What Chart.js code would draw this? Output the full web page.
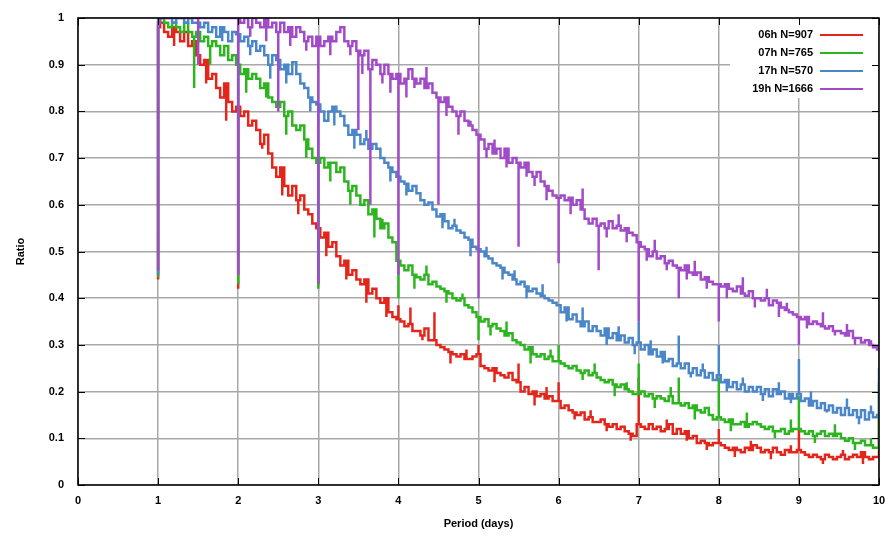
<!DOCTYPE html>
<html>
<head>
<meta charset="utf-8">
<script src="https://cdn.jsdelivr.net/npm/chart.js@4.4.1/dist/chart.umd.min.js"></script>
<style>
  html, body { margin: 0; padding: 0; background: #fff; }
  #chart { display: block; }
</style>
</head>
<body>
<canvas id="chart" width="889" height="540"></canvas>
<script>
// sampling grid of the period axis (days)
const periodStart = 1;
const periodStep = 0.05;

const seriesLabels = ['06h N=907', '07h N=765', '17h N=570', '19h N=1666'];
const seriesColors = ['#e3261c', '#2db51f', '#4a86c8', '#a24bc8'];

const xTicks = [0, 1, 2, 3, 4, 5, 6, 7, 8, 9, 10];
const yTicks = [0, 0.1, 0.2, 0.3, 0.4, 0.5, 0.6, 0.7, 0.8, 0.9, 1];

// ratio values, one row per day (1.00 .. 1.95, 2.00 .. 2.95, ...), last value at 10.00
const red = [
  0.98, 0.99, 0.97, 0.96, 0.98, 0.97, 0.95, 0.97, 0.94, 0.95, 0.92, 0.90, 0.91, 0.87, 0.88, 0.85, 0.83, 0.86, 0.82, 0.80,
  0.81, 0.79, 0.80, 0.77, 0.78, 0.76, 0.73, 0.75, 0.71, 0.68, 0.66, 0.68, 0.64, 0.62, 0.64, 0.61, 0.62, 0.59, 0.58, 0.56,
  0.55, 0.53, 0.54, 0.51, 0.52, 0.49, 0.47, 0.48, 0.45, 0.46, 0.44, 0.43, 0.44, 0.41, 0.42, 0.40, 0.39, 0.40, 0.37, 0.36,
  0.355, 0.35, 0.34, 0.345, 0.33, 0.33, 0.32, 0.335, 0.31, 0.31, 0.30, 0.295, 0.29, 0.285, 0.28, 0.275, 0.28, 0.27, 0.27, 0.275,
  0.28, 0.255, 0.25, 0.245, 0.25, 0.24, 0.235, 0.23, 0.24, 0.225, 0.22, 0.20, 0.21, 0.195, 0.20, 0.19, 0.195, 0.185, 0.19, 0.18,
  0.18, 0.165, 0.17, 0.16, 0.155, 0.15, 0.155, 0.14, 0.145, 0.135, 0.135, 0.14, 0.13, 0.125, 0.13, 0.12, 0.125, 0.115, 0.11, 0.105,
  0.13, 0.125, 0.12, 0.13, 0.12, 0.125, 0.115, 0.12, 0.13, 0.11, 0.12, 0.11, 0.115, 0.10, 0.105, 0.09, 0.095, 0.09, 0.085, 0.09,
  0.09, 0.085, 0.08, 0.075, 0.08, 0.075, 0.07, 0.08, 0.075, 0.085, 0.08, 0.07, 0.075, 0.07, 0.08, 0.07, 0.065, 0.075, 0.07, 0.07,
  0.075, 0.07, 0.065, 0.06, 0.065, 0.06, 0.055, 0.065, 0.06, 0.055, 0.06, 0.065, 0.055, 0.06, 0.065, 0.06, 0.07, 0.06, 0.055, 0.06,
  0.06
];
const green = [
  0.99, 1.0, 0.99, 0.98, 0.99, 0.98, 0.97, 0.99, 0.97, 0.96, 0.97, 0.95, 0.96, 0.94, 0.95, 0.94, 0.92, 0.94, 0.91, 0.92,
  0.90, 0.88, 0.89, 0.87, 0.88, 0.87, 0.85, 0.86, 0.83, 0.82, 0.81, 0.82, 0.79, 0.80, 0.77, 0.76, 0.77, 0.74, 0.72, 0.70,
  0.69, 0.70, 0.68, 0.69, 0.69, 0.67, 0.68, 0.65, 0.63, 0.64, 0.62, 0.60, 0.61, 0.58, 0.59, 0.57, 0.55, 0.56, 0.53, 0.52,
  0.48, 0.47, 0.46, 0.47, 0.45, 0.445, 0.44, 0.45, 0.43, 0.435, 0.425, 0.42, 0.415, 0.41, 0.40, 0.395, 0.40, 0.385, 0.38, 0.37,
  0.36, 0.35, 0.355, 0.34, 0.345, 0.335, 0.33, 0.32, 0.325, 0.31, 0.305, 0.30, 0.29, 0.295, 0.28, 0.275, 0.28, 0.27, 0.275, 0.265,
  0.265, 0.26, 0.255, 0.25, 0.255, 0.245, 0.24, 0.245, 0.235, 0.24, 0.23, 0.225, 0.22, 0.225, 0.215, 0.21, 0.215, 0.205, 0.20, 0.195,
  0.195, 0.20, 0.19, 0.195, 0.185, 0.19, 0.185, 0.18, 0.19, 0.175, 0.175, 0.17, 0.175, 0.165, 0.17, 0.16, 0.155, 0.165, 0.15, 0.14,
  0.145, 0.14, 0.135, 0.14, 0.13, 0.13, 0.135, 0.125, 0.13, 0.135, 0.13, 0.125, 0.12, 0.125, 0.115, 0.115, 0.12, 0.11, 0.115, 0.12,
  0.12, 0.115, 0.11, 0.115, 0.105, 0.11, 0.115, 0.105, 0.11, 0.105, 0.11, 0.10, 0.095, 0.10, 0.09, 0.09, 0.095, 0.085, 0.085, 0.08,
  0.08
];
const blue = [
  1.0, 1.0, 1.0, 1.0, 0.99, 1.0, 1.0, 0.99, 1.0, 0.99, 0.99, 0.98, 0.99, 0.97, 0.98, 0.96, 0.98, 0.97, 0.95, 0.97,
  0.965, 0.95, 0.96, 0.94, 0.95, 0.93, 0.94, 0.92, 0.90, 0.92, 0.91, 0.89, 0.90, 0.88, 0.905, 0.88, 0.86, 0.85, 0.83, 0.82,
  0.815, 0.80, 0.78, 0.80, 0.81, 0.80, 0.79, 0.77, 0.75, 0.76, 0.75, 0.73, 0.74, 0.72, 0.73, 0.72, 0.70, 0.69, 0.68, 0.67,
  0.66, 0.65, 0.645, 0.63, 0.64, 0.625, 0.61, 0.60, 0.605, 0.59, 0.575, 0.58, 0.565, 0.55, 0.555, 0.545, 0.54, 0.53, 0.525, 0.51,
  0.505, 0.50, 0.49, 0.485, 0.475, 0.47, 0.465, 0.455, 0.45, 0.44, 0.43, 0.435, 0.425, 0.415, 0.42, 0.41, 0.405, 0.40, 0.395, 0.39,
  0.385, 0.37, 0.38, 0.355, 0.365, 0.35, 0.34, 0.35, 0.33, 0.34, 0.33, 0.32, 0.335, 0.315, 0.325, 0.31, 0.32, 0.305, 0.315, 0.30,
  0.305, 0.29, 0.30, 0.28, 0.29, 0.275, 0.285, 0.265, 0.27, 0.255, 0.26, 0.25, 0.26, 0.24, 0.25, 0.235, 0.245, 0.23, 0.24, 0.225,
  0.235, 0.22, 0.225, 0.21, 0.22, 0.205, 0.215, 0.20, 0.21, 0.20, 0.21, 0.195, 0.205, 0.19, 0.205, 0.195, 0.20, 0.185, 0.195, 0.185,
  0.195, 0.18, 0.185, 0.17, 0.18, 0.165, 0.175, 0.16, 0.17, 0.155, 0.165, 0.15, 0.165, 0.15, 0.16, 0.145, 0.16, 0.14, 0.155, 0.145,
  0.15
];
const purple = [
  0.99, 1.0, 1.0, 1.0, 1.0, 1.0, 1.0, 1.0, 1.0, 1.0, 1.0, 1.0, 1.0, 1.0, 1.0, 1.0, 1.0, 1.0, 1.0, 1.0,
  1.0, 0.99, 1.0, 0.98, 1.0, 0.99, 0.98, 1.0, 0.98, 0.99, 0.97, 0.99, 0.97, 0.98, 0.96, 0.98, 0.97, 0.95, 0.96, 0.94,
  0.96, 0.94, 0.95, 0.96, 0.95, 0.97, 0.98, 0.95, 0.94, 0.95, 0.93, 0.92, 0.93, 0.89, 0.91, 0.90, 0.88, 0.90, 0.88, 0.87,
  0.88, 0.86, 0.87, 0.89, 0.87, 0.86, 0.87, 0.85, 0.86, 0.84, 0.83, 0.82, 0.83, 0.81, 0.80, 0.79, 0.80, 0.78, 0.77, 0.76,
  0.75, 0.74, 0.72, 0.73, 0.71, 0.72, 0.70, 0.72, 0.69, 0.70, 0.69, 0.68, 0.69, 0.67, 0.66, 0.67, 0.65, 0.64, 0.63, 0.62,
  0.615, 0.62, 0.61, 0.615, 0.60, 0.61, 0.59, 0.57, 0.56, 0.57, 0.555, 0.56, 0.55, 0.565, 0.55, 0.555, 0.545, 0.55, 0.54, 0.535,
  0.52, 0.51, 0.505, 0.49, 0.50, 0.485, 0.49, 0.475, 0.48, 0.47, 0.465, 0.46, 0.47, 0.455, 0.45, 0.455, 0.44, 0.445, 0.435, 0.43,
  0.43, 0.425, 0.43, 0.42, 0.415, 0.425, 0.41, 0.405, 0.415, 0.40, 0.40, 0.395, 0.40, 0.385, 0.395, 0.39, 0.38, 0.375, 0.37, 0.365,
  0.36, 0.355, 0.36, 0.345, 0.35, 0.345, 0.34, 0.335, 0.34, 0.33, 0.33, 0.325, 0.32, 0.33, 0.315, 0.315, 0.305, 0.31, 0.30, 0.295,
  0.29
];

// one-sample spikes and noise teeth (day, value reached)
const redSpikeDays = [1, 2, 3, 4, 4.15, 4.45, 5, 5.5, 6, 7, 8, 9, 10,
  1.2, 1.6, 1.85, 2.3, 2.55, 2.75, 3.1, 3.35, 3.6, 3.85, 4.3, 4.65, 4.85, 5.2, 5.7, 5.85,
  6.2, 6.4, 6.6, 6.9, 7.35, 7.6, 7.85, 8.2, 8.4, 8.65, 8.9, 9.3, 9.55, 9.8];
const redSpikeVals = [0.44, 0.42, 0.43, 0.385, 0.38, 0.37, 0.30, 0.26, 0.22, 0.23, 0.12, 0.12, 0.15,
  0.94, 0.86, 0.78, 0.72, 0.62, 0.58, 0.49, 0.44, 0.39, 0.36, 0.31, 0.26, 0.29, 0.22, 0.17, 0.21,
  0.14, 0.16, 0.115, 0.095, 0.14, 0.095, 0.075, 0.06, 0.095, 0.055, 0.085, 0.045, 0.075, 0.045];
const greenSpikeDays = [1, 1.45, 2, 3, 4, 5, 6, 7, 7.5, 8, 9, 10,
  1.65, 2.1, 2.35, 2.6, 2.85, 3.15, 3.4, 3.7, 3.8, 4.2, 4.35, 4.6, 4.8, 5.15, 5.35, 5.65, 5.9,
  6.3, 6.45, 6.7, 6.85, 7.2, 7.4, 7.7, 8.15, 8.35, 8.7, 8.9, 9.2, 9.45, 9.7, 9.9];
const greenSpikeVals = [0.445, 0.85, 0.43, 0.42, 0.40, 0.31, 0.30, 0.26, 0.23, 0.23, 0.19, 0.22,
  0.90, 0.84, 0.83, 0.75, 0.70, 0.65, 0.60, 0.53, 0.57, 0.42, 0.47, 0.39, 0.41, 0.32, 0.35, 0.26, 0.29,
  0.225, 0.26, 0.19, 0.22, 0.165, 0.21, 0.14, 0.115, 0.155, 0.10, 0.14, 0.09, 0.13, 0.075, 0.10];
const blueSpikeDays = [1, 2, 3, 7, 7.5, 8, 9, 10,
  1.8, 2.15, 2.4, 2.6, 2.9, 3.2, 3.45, 3.6, 3.9, 4.1, 4.35, 4.55, 4.7, 4.9, 5.1, 5.3, 5.45, 5.6, 5.8,
  6.1, 6.3, 6.6, 6.75, 6.95, 7.15, 7.3, 7.65, 7.8, 8.1, 8.3, 8.55, 8.75, 8.9, 9.15, 9.35, 9.6, 9.75, 9.9];
const blueSpikeVals = [0.45, 0.45, 0.44, 0.35, 0.32, 0.30, 0.27, 0.25,
  0.95, 0.92, 0.87, 0.86, 0.80, 0.77, 0.72, 0.76, 0.65, 0.62, 0.60, 0.55, 0.57, 0.49, 0.51, 0.44, 0.46, 0.40, 0.43,
  0.35, 0.38, 0.30, 0.34, 0.28, 0.31, 0.26, 0.23, 0.26, 0.20, 0.23, 0.18, 0.22, 0.175, 0.20, 0.155, 0.185, 0.13, 0.17];
const purpleSpikeDays = [1, 1.5, 2, 2.5, 3, 3.5, 3.65, 4, 4.5, 5, 5.5, 6, 6.5, 7, 7.5, 8, 9,
  2.15, 2.35, 2.65, 2.85, 3.15, 3.4, 3.55, 3.8, 3.9, 4.1, 4.2, 4.35, 4.6, 4.75, 4.9, 5.1, 5.2, 5.35,
  5.6, 5.7, 5.85, 6.15, 6.3, 6.6, 6.75, 6.85, 7.1, 7.2, 7.35, 7.6, 7.7, 7.85, 8.1, 8.3, 8.45, 8.6,
  8.75, 8.85, 9.1, 9.3, 9.45, 9.6, 9.7, 9.9];
const purpleSpikeVals = [0.46, 0.90, 0.45, 0.80, 0.43, 0.76, 0.60, 0.45, 0.60, 0.40, 0.51, 0.475, 0.46, 0.35, 0.40, 0.35, 0.30,
  0.96, 0.95, 0.94, 0.93, 0.92, 0.92, 0.88, 0.86, 0.84, 0.83, 0.85, 0.895, 0.79, 0.75, 0.78, 0.70, 0.74, 0.68,
  0.66, 0.64, 0.61, 0.58, 0.635, 0.53, 0.58, 0.52, 0.48, 0.525, 0.46, 0.44, 0.48, 0.42, 0.40, 0.445, 0.38, 0.42,
  0.36, 0.39, 0.335, 0.37, 0.32, 0.345, 0.30, 0.31];

let buildSeries = (values, spikeDays, spikeVals) => {
  const pts = [];
  values.forEach((v, i) => {
    const d = Math.round((periodStart + i * periodStep) * 100) / 100;
    pts.push({ x: d, y: v });
    const k = spikeDays.indexOf(d);
    if (k >= 0) {
      pts.push({ x: d, y: spikeVals[k] });
      pts.push({ x: d, y: v });
    }
  });
  return pts;
};

const seriesData = [
  buildSeries(red, redSpikeDays, redSpikeVals),
  buildSeries(green, greenSpikeDays, greenSpikeVals),
  buildSeries(blue, blueSpikeDays, blueSpikeVals),
  buildSeries(purple, purpleSpikeDays, purpleSpikeVals)
];

const tickFont = { family: 'Liberation Sans', size: 11, weight: 'bold' };

// gnuplot style frame with inward ticks, plus the legend box inside the plot
const framePlugin = {
  id: 'frame',
  afterDatasetsDraw(chart) {
    const { ctx, chartArea: a, scales } = chart;
    ctx.save();

    // legend
    ctx.fillStyle = '#fff';
    ctx.fillRect(730, a.top + 1, a.right - 731, 79);
    ctx.font = 'bold 11px "Liberation Sans"';
    ctx.textAlign = 'right';
    ctx.textBaseline = 'middle';
    chart.data.datasets.forEach((ds, i) => {
      const y = 35 + i * 18;
      ctx.fillStyle = '#000';
      ctx.fillText(ds.label, 813, y);
      ctx.strokeStyle = ds.borderColor;
      ctx.lineWidth = 2;
      ctx.beginPath();
      ctx.moveTo(820, y);
      ctx.lineTo(863, y);
      ctx.stroke();
    });

    // inward ticks
    ctx.strokeStyle = '#000';
    ctx.lineWidth = 1;
    ctx.beginPath();
    xTicks.forEach(t => {
      const x = Math.round(scales.x.getPixelForValue(t)) + 0.5;
      ctx.moveTo(x, a.bottom); ctx.lineTo(x, a.bottom - 7);
      ctx.moveTo(x, a.top); ctx.lineTo(x, a.top + 7);
    });
    yTicks.forEach(t => {
      const y = Math.round(scales.y.getPixelForValue(t)) + 0.5;
      ctx.moveTo(a.left, y); ctx.lineTo(a.left + 7, y);
      ctx.moveTo(a.right, y); ctx.lineTo(a.right - 7, y);
    });
    ctx.stroke();

    // border
    ctx.lineWidth = 1.5;
    ctx.strokeRect(a.left, a.top, a.right - a.left, a.bottom - a.top);
    ctx.restore();
  }
};

(function () {
  const ctx = document.getElementById('chart');
  const datasets = seriesData.map((pts, i) => ({
    label: seriesLabels[i],
    data: pts,
    borderColor: seriesColors[i],
    backgroundColor: seriesColors[i],
    borderWidth: 2.5,
    pointRadius: 0,
    stepped: 'middle',
    fill: false,
    order: 3 - i   // last series on top
  }));

  const config = {
    type: 'line',
    data: { datasets: datasets },
    options: {
      responsive: false,
      animation: false,
      devicePixelRatio: 1,
      layout: { padding: { top: 18, right: 10, left: 0, bottom: 0 } },
      plugins: { legend: { display: false }, tooltip: { enabled: false } },
      scales: {
        x: {
          type: 'linear',
          min: 0,
          max: 10,
          afterFit: s => { s.height = 55; s.paddingLeft = 0; s.paddingRight = 0; },
          afterBuildTicks: s => { s.ticks = xTicks.map(v => ({ value: v })); },
          ticks: { font: tickFont, color: '#000', padding: 9, maxRotation: 0, callback: v => String(v) },
          grid: { color: '#a8a8a8', lineWidth: 1.5, drawTicks: false },
          border: { display: false },
          title: { display: true, text: 'Period (days)', font: tickFont, color: '#000', padding: { top: 9, bottom: 9 } }
        },
        y: {
          min: 0,
          max: 1,
          afterFit: s => { s.width = 78; s.paddingTop = 0; s.paddingBottom = 0; },
          afterBuildTicks: s => { s.ticks = yTicks.map(v => ({ value: v })); },
          ticks: { font: tickFont, color: '#000', padding: 14, callback: v => String(Math.round(v * 10) / 10) },
          grid: { color: '#a8a8a8', lineWidth: 1.5, drawTicks: false },
          border: { display: false },
          title: { display: true, text: 'Ratio', font: tickFont, color: '#000', padding: { top: 14, bottom: 14 } }
        }
      }
    },
    plugins: [framePlugin]
  };
  const chart = new Chart(ctx, config);
})();
</script>
</body>
</html>
